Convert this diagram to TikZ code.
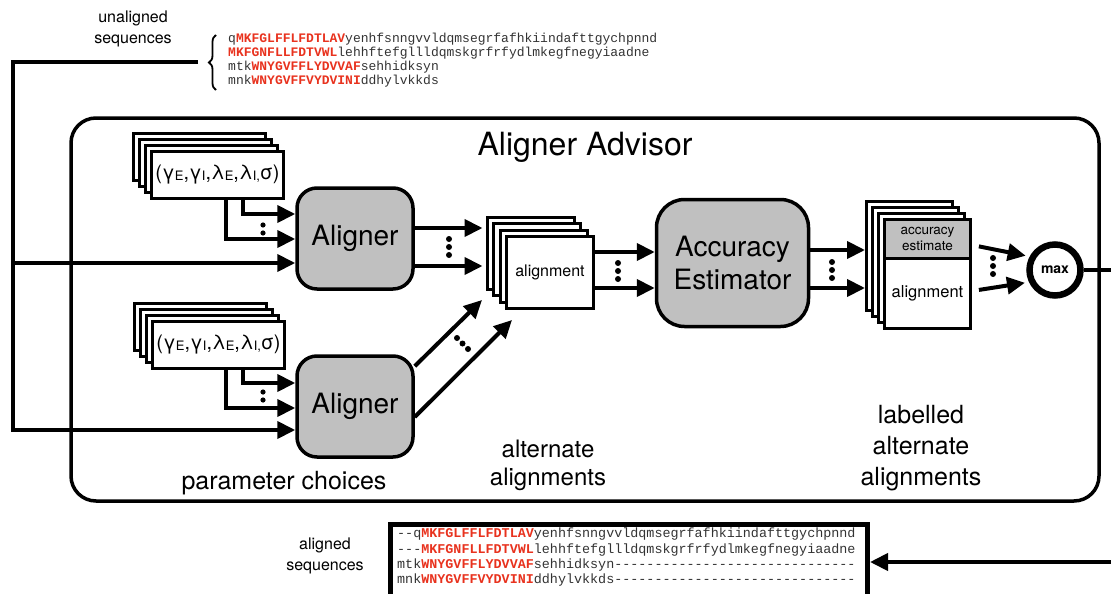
\documentclass[tikz,border=0pt]{standalone}
\usepackage{fontspec}
\setmainfont{TeX Gyre Heros}
\setmonofont{Liberation Mono}
\usetikzlibrary{arrows.meta,calc,decorations.pathreplacing}
\definecolor{seqred}{HTML}{E8321E}
\definecolor{boxgray}{HTML}{C0C0C0}
\definecolor{seqgray}{HTML}{333333}
\newcommand{\hl}[1]{\textcolor{seqred}{\bfseries #1}}
\newcommand{\sml}[1]{\raisebox{-0.3pt}{\fontsize{13}{13}\selectfont #1}}
\tikzset{
  flow/.style={line width=4pt, -{Triangle[length=18pt,width=17pt]}},
  bus/.style={line width=4pt},
  card/.style={draw, fill=white, line width=3pt, anchor=north west, inner sep=0pt},
  proc/.style={draw, fill=boxgray, line width=3.5pt, rounded corners=20pt,
    minimum width=116pt, minimum height=101pt, font=\fontsize{28}{28}\selectfont},
  lbl/.style={align=center, inner sep=0pt},
  dot/.style={fill=black},
}
\begin{document}
\begin{tikzpicture}[x=1pt,y=-1pt]
\useasboundingbox (0,0) rectangle (1111,594);

% outer advisor box
\node[draw, line width=3.5pt, rounded corners=25pt, minimum width=1028pt,
  minimum height=383pt] (advisor) at (585,309.5) {};
\node[lbl, font=\fontsize{32}{32}\selectfont] (title) at (585,147) {Aligner Advisor};

% unaligned sequences
\node[lbl, font=\fontsize{16}{21}\selectfont] (unlab) at (133,29) {unaligned\\sequences};
\node[anchor=north west, inner sep=0pt, align=left, text=seqgray,
  font=\ttfamily\fontsize{13}{13.8}\selectfont] (unseq) at (228,33)
 {q\hl{MKFGLFFLFDTLAV}yenhfsnngvvldqmsegrfafhkiindafttgychpnnd\\
  \hl{MKFGNFLLFDTVWL}lehhftefgllldqmskgrfrfydlmkegfnegyiaadne\\
  mtk\hl{WNYGVFFLYDVVAF}sehhidksyn\\
  mnk\hl{WNYGVFFVYDVINI}ddhylvkkds};
\draw[line width=1.8pt, decorate, decoration={brace, amplitude=7pt}]
  (216,90) -- (216,35);
\coordinate (bracetip) at (198,62);

% parameter stacks
\foreach \o/\n in {18/3,12/2,6/1} {
  \node[card, minimum width=132pt, minimum height=47pt] (pAb\n) at (150-\o,150-\o) {};
  \node[card, minimum width=132pt, minimum height=47pt] (pBb\n) at (151-\o,320-\o) {};
}
\node[card, minimum width=132pt, minimum height=47pt, font=\fontsize{20}{20}\selectfont]
  (pA) at (150,150) {(γ\sml{E},γ\sml{I},λ\sml{E},λ\sml{I,}σ)};
\node[card, minimum width=132pt, minimum height=47pt, font=\fontsize{20}{20}\selectfont]
  (pB) at (151,320) {(γ\sml{E},γ\sml{I},λ\sml{E},λ\sml{I,}σ)};

% aligners
\node[proc] (al1) at (355,238.5) {Aligner};
\node[proc] (al2) at (355,406.5) {Aligner};

% inputs to aligners
\draw[flow] (pA.south -| 243,0) |- (al1.west |- 0,214);
\draw[flow] (pA.south -| 226,0) |- (al1.west |- 0,239);
\fill[dot] (263,225) circle (2.6pt) (263,233) circle (2.6pt);
\draw[flow] (pB.south -| 243,0) |- (al2.west |- 0,383);
\draw[flow] (pB.south -| 226,0) |- (al2.west |- 0,408);
\fill[dot] (263,392) circle (2.6pt) (263,400) circle (2.6pt);

\coordinate (leftbot) at (13,430);
\coordinate (leftmid) at (13,263);
\draw[flow] (bracetip) -| (leftbot) -- (al2.west |- leftbot);
\draw[flow] (leftmid) -- (al1.west |- leftmid);

% alignment stack
\foreach \o/\n in {19.5/3,13/2,6.5/1} {
  \node[card, minimum width=87pt, minimum height=72pt] (alb\n) at (505-\o,235-\o) {};
}
\node[card, minimum width=87pt, minimum height=72pt, font=\fontsize{16}{16}\selectfont]
  (alf) at (505,235) {alignment};

\draw[flow, shorten >=3pt] (al1.east |- 0,228) -- (alb3.west |- 0,228);
\draw[flow, shorten >=3pt] (al1.east |- 0,266) -- (alb3.west |- 0,266);
\fill[dot] (449,239) circle (3pt) (449,247) circle (3pt) (449,255) circle (3pt);

\coordinate (d1) at (482,300);
\coordinate (d2) at (512,320);
\draw[flow] (al2.34) -- (d1);
\draw[flow] (al2.-10) -- (d2);
\fill[dot] (457,338) circle (3pt) (462.5,343.5) circle (3pt) (468,349) circle (3pt);

% accuracy estimator
\node[draw, fill=boxgray, line width=3.5pt, rounded corners=28pt, minimum width=152pt,
  minimum height=127pt, align=center, font=\fontsize{28}{33}\selectfont]
  (ae) at (732.5,263) {Accuracy\\Estimator};

\draw[flow] (alf.east |- 0,252) -- (ae.west |- 0,252);
\draw[flow] (alf.east |- 0,288) -- (ae.west |- 0,288);
\fill[dot] (618,263) circle (3pt) (618,271) circle (3pt) (618,279) circle (3pt);

% labelled stack
\foreach \o/\n in {18/3,12/2,6/1} {
  \node[card, minimum width=86pt, minimum height=109pt] (labb\n) at (883-\o,218-\o) {};
}
\node[card, fill=boxgray, minimum width=86pt, minimum height=39pt, align=center,
  font=\fontsize{13.5}{16}\selectfont] (labtop) at (883,218) {accuracy\\estimate};
\node[card, minimum width=86pt, minimum height=70pt, font=\fontsize{16.5}{16.5}\selectfont]
  (labbot) at ([yshift=3pt]labtop.south west) {alignment};

\draw[flow] (ae.east |- 0,250) -- (labb3.west |- 0,250);
\draw[flow] (ae.east |- 0,288) -- (labb3.west |- 0,288);
\fill[dot] (832,262) circle (3pt) (832,270) circle (3pt) (832,278) circle (3pt);

% max
\node[circle, draw, fill=white, line width=6.5pt, minimum size=51pt, inner sep=0pt,
  font=\bfseries\fontsize{14}{14}\selectfont] (max) at (1055,270) {max};
\draw[flow, shorten <=7pt, shorten >=4pt] (labtop.east |- 0,245) -- (max.152);
\draw[flow, shorten <=7pt, shorten >=4pt] (labbot.east |- 0,291) -- (max.205);
\fill[dot] (993,258) circle (3pt) (993,266) circle (3pt) (993,274) circle (3pt);

% aligned sequences
\node[draw, line width=5pt, anchor=north west, minimum width=477pt, minimum height=95pt,
  inner sep=0pt] (aligned) at (388,522) {};
\node[anchor=north west, inner sep=0pt, align=left, text=seqgray,
  font=\ttfamily\fontsize{13.4}{15.3}\selectfont] (alignedtxt) at (397,528)
 {-{}-q\hl{MKFGLFFLFDTLAV}yenhfsnngvvldqmsegrfafhkiindafttgychpnnd\\
  -{}-{}-\hl{MKFGNFLLFDTVWL}lehhftefgllldqmskgrfrfydlmkegfnegyiaadne\\
  mtk\hl{WNYGVFFLYDVVAF}sehhidksyn------------------------------\\
  mnk\hl{WNYGVFFVYDVINI}ddhylvkkds------------------------------};
\node[lbl, font=\fontsize{16}{21}\selectfont] (alab) at (325,556) {aligned\\sequences};

\draw[flow] (max.east) -- ++(70,0) |- (aligned.east |- 0,562);

% captions
\node[lbl, font=\fontsize{25}{25}\selectfont] (pclab) at (284,483) {parameter choices};
\node[lbl, font=\fontsize{24}{28}\selectfont] (altlab) at (548,465) {alternate\\alignments};
\node[lbl, font=\fontsize{25}{31}\selectfont] (lablab) at (921,448) {labelled\\alternate\\alignments};
\end{tikzpicture}
\end{document}
